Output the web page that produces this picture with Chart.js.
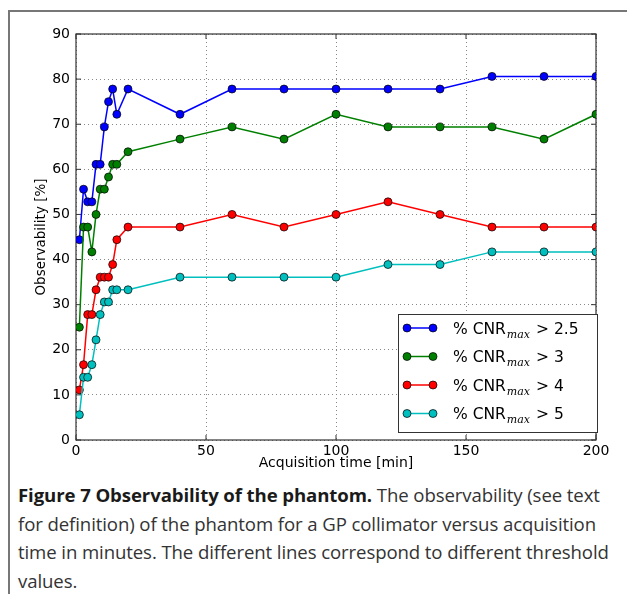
<!DOCTYPE html>
<html>
<head>
<meta charset="utf-8">
<script src="https://cdn.jsdelivr.net/npm/chart.js@4.4.1/dist/chart.umd.min.js"></script>
<style>
  body { margin: 0; background: #fff; width: 627px; height: 594px; overflow: hidden; position: relative; }
  #frame { position: absolute; left: 8px; top: 10px; width: 619px; height: 584px;
           border-left: 2px solid #777; border-top: 2px solid #777; box-sizing: border-box; }
  #chart { position: absolute; left: 0; top: 0; }
  #caption { position: absolute; left: 18px; top: 481px; width: 605px;
             font-family: "Open Sans", "Noto Sans", sans-serif; font-size: 18.6px; line-height: 28.5px;
             letter-spacing: -0.1px; color: #333; white-space: nowrap; }
  #caption b { color: #1a1a1a; }
</style>
</head>
<body>
<div id="frame"></div>
<canvas id="chart" width="627" height="480"></canvas>
<div id="caption"><b>Figure 7 Observability of the phantom.</b> The observability (see text<br>for definition) of the phantom for a GP collimator versus acquisition<br>time in minutes. The different lines correspond to different threshold<br>values.</div>
<script>
// acquisition times (min) and observability (%) per CNR threshold
const times = [1.3, 2.9, 4.5, 6.1, 7.7, 9.3, 10.9, 12.5, 14.1, 15.7, 20, 40, 60, 80, 100, 120, 140, 160, 180, 200];
const thresholds = ['2.5', '3', '4', '5'];
const obs25 = [44.4, 55.6, 52.8, 52.8, 61.1, 61.1, 69.4, 75.0, 77.8, 72.2, 77.8, 72.2, 77.8, 77.8, 77.8, 77.8, 77.8, 80.6, 80.6, 80.6];
const obs3  = [25.0, 47.2, 47.2, 41.7, 50.0, 55.6, 55.6, 58.3, 61.1, 61.1, 63.9, 66.7, 69.4, 66.7, 72.2, 69.4, 69.4, 69.4, 66.7, 72.2];
const obs4  = [11.1, 16.7, 27.8, 27.8, 33.3, 36.1, 36.1, 36.1, 38.9, 44.4, 47.2, 47.2, 50.0, 47.2, 50.0, 52.8, 50.0, 47.2, 47.2, 47.2];
const obs5  = [5.6, 13.9, 13.9, 16.7, 22.2, 27.8, 30.6, 30.6, 33.3, 33.3, 33.3, 36.1, 36.1, 36.1, 36.1, 38.9, 38.9, 41.7, 41.7, 41.7];
const xTicks = [0, 50, 100, 150, 200];
const yTicks = [0, 10, 20, 30, 40, 50, 60, 70, 80, 90];

const colors = ['#0000ff', '#008000', '#ff0000', '#00bfbf'];
const series = [obs25, obs3, obs4, obs5];

const tickFont = { family: 'DejaVu Sans', size: 14 };

// matplotlib style box around the axes with inward ticks on every side
const boxPlugin = {
  id: 'boxPlugin',
  beforeDatasetsDraw(chart) {
    const { ctx, chartArea: a, scales } = chart;
    ctx.save();
    ctx.strokeStyle = '#333';
    ctx.lineWidth = 1.2;
    ctx.strokeRect(a.left, a.top, a.right - a.left, a.bottom - a.top);
    ctx.lineWidth = 1;
    ctx.beginPath();
    scales.x.ticks.forEach((t, i) => {
      const px = scales.x.getPixelForTick(i);
      ctx.moveTo(px, a.bottom); ctx.lineTo(px, a.bottom - 5);
      ctx.moveTo(px, a.top); ctx.lineTo(px, a.top + 5);
    });
    scales.y.ticks.forEach((t, i) => {
      const py = scales.y.getPixelForTick(i);
      ctx.moveTo(a.left, py); ctx.lineTo(a.left + 5, py);
      ctx.moveTo(a.right, py); ctx.lineTo(a.right - 5, py);
    });
    ctx.stroke();
    ctx.restore();
  }
};

// legend in the lower right corner of the plot, like matplotlib's loc=4
const legendPlugin = {
  id: 'boxLegend',
  afterDatasetsDraw(chart) {
    const { ctx, chartArea: a } = chart;
    const w = 199, h = 118;
    const x0 = a.right - w + 1, y0 = a.bottom - h - 8;
    ctx.save();
    ctx.fillStyle = '#fff';
    ctx.fillRect(x0, y0, w, h);
    ctx.strokeStyle = '#333';
    ctx.lineWidth = 1;
    ctx.strokeRect(x0 + 0.5, y0 + 0.5, w, h);
    chart.data.datasets.forEach((ds, i) => {
      const y = y0 + 14 + i * 28.5;
      const m1 = x0 + 9, m2 = x0 + 35;
      ctx.strokeStyle = ds.borderColor;
      ctx.lineWidth = 1.5;
      ctx.beginPath(); ctx.moveTo(m1, y); ctx.lineTo(m2, y); ctx.stroke();
      [m1, m2].forEach(mx => {
        ctx.beginPath();
        ctx.arc(mx, y, 4, 0, Math.PI * 2);
        ctx.fillStyle = ds.pointBackgroundColor;
        ctx.fill();
        ctx.strokeStyle = '#000';
        ctx.lineWidth = 0.7;
        ctx.stroke();
      });
      ctx.fillStyle = '#000';
      ctx.textBaseline = 'alphabetic';
      ctx.font = '15.5px "DejaVu Sans"';
      let tx = x0 + 55;
      const base = y + 5.5;
      ctx.fillText('% CNR', tx, base);
      tx += ctx.measureText('% CNR').width + 1;
      ctx.font = 'italic 11px "DejaVu Serif"';
      ctx.fillText('max', tx, base + 4);
      tx += ctx.measureText('max').width + 6;
      ctx.font = '15.5px "DejaVu Sans"';
      ctx.fillText('> ' + thresholds[i], tx, base);
    });
    ctx.restore();
  }
};

new Chart(document.getElementById('chart'), {
  type: 'line',
  data: {
    datasets: series.map((vals, i) => ({
      label: '% CNRmax > ' + thresholds[i],
      data: times.map((t, j) => ({ x: t, y: vals[j] })),
      borderColor: colors[i],
      borderWidth: 1.5,
      pointBackgroundColor: colors[i],
      pointBorderColor: '#000',
      pointBorderWidth: 0.7,
      pointRadius: 4,
      tension: 0,
      order: series.length - i
    }))
  },
  options: {
    responsive: false,
    animation: false,
    devicePixelRatio: 1,
    layout: { padding: { left: 0, right: 31, top: 34, bottom: 0 } },
    plugins: { legend: { display: false }, tooltip: { enabled: false } },
    scales: {
      x: {
        type: 'linear', min: 0, max: 200,
        afterBuildTicks: s => { s.ticks = xTicks.map(v => ({ value: v })); },
        afterFit: s => { s.height = 40; },
        grid: { color: '#888', lineWidth: 1, drawTicks: false },
        border: { display: false, dash: [1, 3] },
        ticks: { font: tickFont, color: '#000', padding: 3, maxRotation: 0 },
        title: { display: true, text: 'Acquisition time [min]', font: { family: 'DejaVu Sans', size: 14 }, color: '#000', padding: { top: 0, bottom: 8 } }
      },
      y: {
        type: 'linear', min: 0, max: 90,
        afterBuildTicks: s => { s.ticks = yTicks.map(v => ({ value: v })); },
        afterFit: s => { s.width = 76; },
        grid: { color: '#888', lineWidth: 1, drawTicks: false },
        border: { display: false, dash: [1, 3] },
        ticks: { font: tickFont, color: '#000', padding: 6 },
        title: { display: true, text: 'Observability [%]', font: { family: 'DejaVu Sans', size: 13.5 }, color: '#000', padding: { top: 33, bottom: 0 } }
      }
    }
  },
  plugins: [boxPlugin, legendPlugin]
});
</script>
</body>
</html>
